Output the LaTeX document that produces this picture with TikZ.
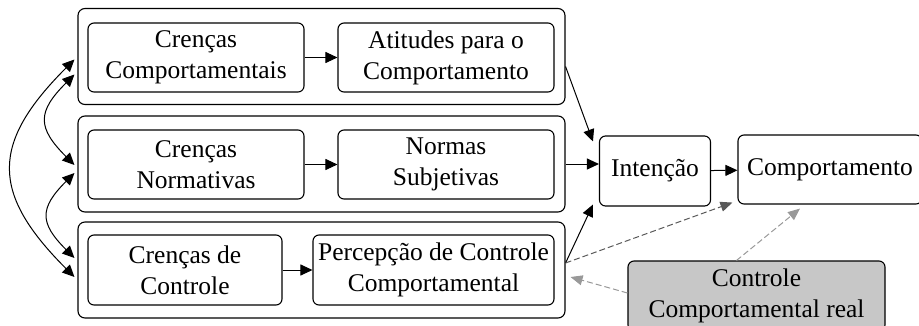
\documentclass[tikz,border=0pt]{standalone}
\usepackage{fontspec}
\setmainfont{Liberation Serif}
\usetikzlibrary{positioning,arrows.meta}

\begin{document}
\begin{tikzpicture}[x=1pt, y=-1pt, >={Triangle[length=12pt,width=11pt]},
    every node/.style={font=\fontsize{25.5}{31}\selectfont, align=center, inner sep=3pt},
    grpbox/.style={draw, rounded corners=7pt, line width=1.1pt, minimum width=487pt, minimum height=96pt},
    box/.style={draw, rounded corners=6pt, line width=1.1pt, minimum height=69pt},
    link/.style={->, line width=1pt},
    dashlink/.style={->, line width=1pt, dash pattern=on 6pt off 3pt, draw=gray!80, >={Triangle[length=12pt,width=10pt,fill=gray!80]}}]
    \useasboundingbox (0,0) rectangle (919,325);

    % group frames
    \node[grpbox] (grp1) at (321.5,56.5) {};
    \node[grpbox] (grp2) at (321.5,164) {};
    \node[grpbox] (grp3) at (321.5,270) {};

    % inner boxes
    \node[box, minimum width=216pt] (crcomp) at (196,57.5) {Crenças\\Comportamentais};
    \node[box, minimum width=216pt] (atit)   at (446,57.5) {Atitudes para o\\Comportamento};
    \node[box, minimum width=216pt] (crnorm) at (196,164.5) {Crenças\\Normativas};
    \node[box, minimum width=216pt] (normas) at (446,164.5) {Normas\\Subjetivas};
    \node[box, minimum width=194pt, minimum height=70pt] (crctrl) at (185,270) {Crenças de\\Controle};
    \node[box, minimum width=241pt, minimum height=70pt] (percep) at (433.5,270) {Percepção de Controle\\Comportamental};

    \node[box, minimum width=111pt, minimum height=70pt] (intencao) at (655,171) {Intenção};
    \node[box, minimum width=184pt] (comport) at (830,169.5) {Comportamento};
    \node[box, minimum width=257pt, minimum height=70pt, fill=black!22] (ctrlreal) at (756.5,296) {Controle\\Comportamental real};

    % inner connections
    \draw[link] (crcomp) -- (atit);
    \draw[link] (crnorm) -- (normas);
    \draw[link] (crctrl) -- (percep);

    % to intention and behaviour
    \draw[link] ([yshift=-10pt]grp1.east) -- ([xshift=-6pt,yshift=-6pt]intencao.north west);
    \draw[link] (grp2.east) -- (grp2.east -| intencao.west);
    \draw[link] ([yshift=7pt]grp3.east) -- ([xshift=-6pt,yshift=2pt]intencao.south west);
    \draw[link] (intencao) -- (comport);

    % actual control (dashed)
    \draw[dashlink, draw=black!65, >={Triangle[length=12pt,width=10pt,fill=black!65]}] ([yshift=7pt]grp3.east) -- ([xshift=-5pt,yshift=2pt]comport.south west);
    \draw[dashlink] ([xshift=-20pt]ctrlreal.north) -- ([xshift=-30pt,yshift=-4pt]comport.south);
    \draw[dashlink] ([yshift=3pt]ctrlreal.west) -- ([xshift=5pt,yshift=-7pt]grp3.east);

    % correlations between beliefs
    \draw[<->, line width=1pt] ([xshift=-3pt,yshift=-3pt]grp1.west) to[out=225,in=135,looseness=1.4] ([xshift=-3pt,yshift=-7pt]grp3.west);
    \draw[<->, line width=1pt] ([xshift=-3pt,yshift=-18pt]grp1.west) to[out=225,in=135,looseness=1.5] ([xshift=-3pt,yshift=-1pt]grp2.west);
    \draw[<->, line width=1pt] ([xshift=-3pt,yshift=-9pt]grp2.west) to[out=225,in=135,looseness=1.5] ([xshift=-3pt,yshift=12pt]grp3.west);
\end{tikzpicture}
\end{document}
